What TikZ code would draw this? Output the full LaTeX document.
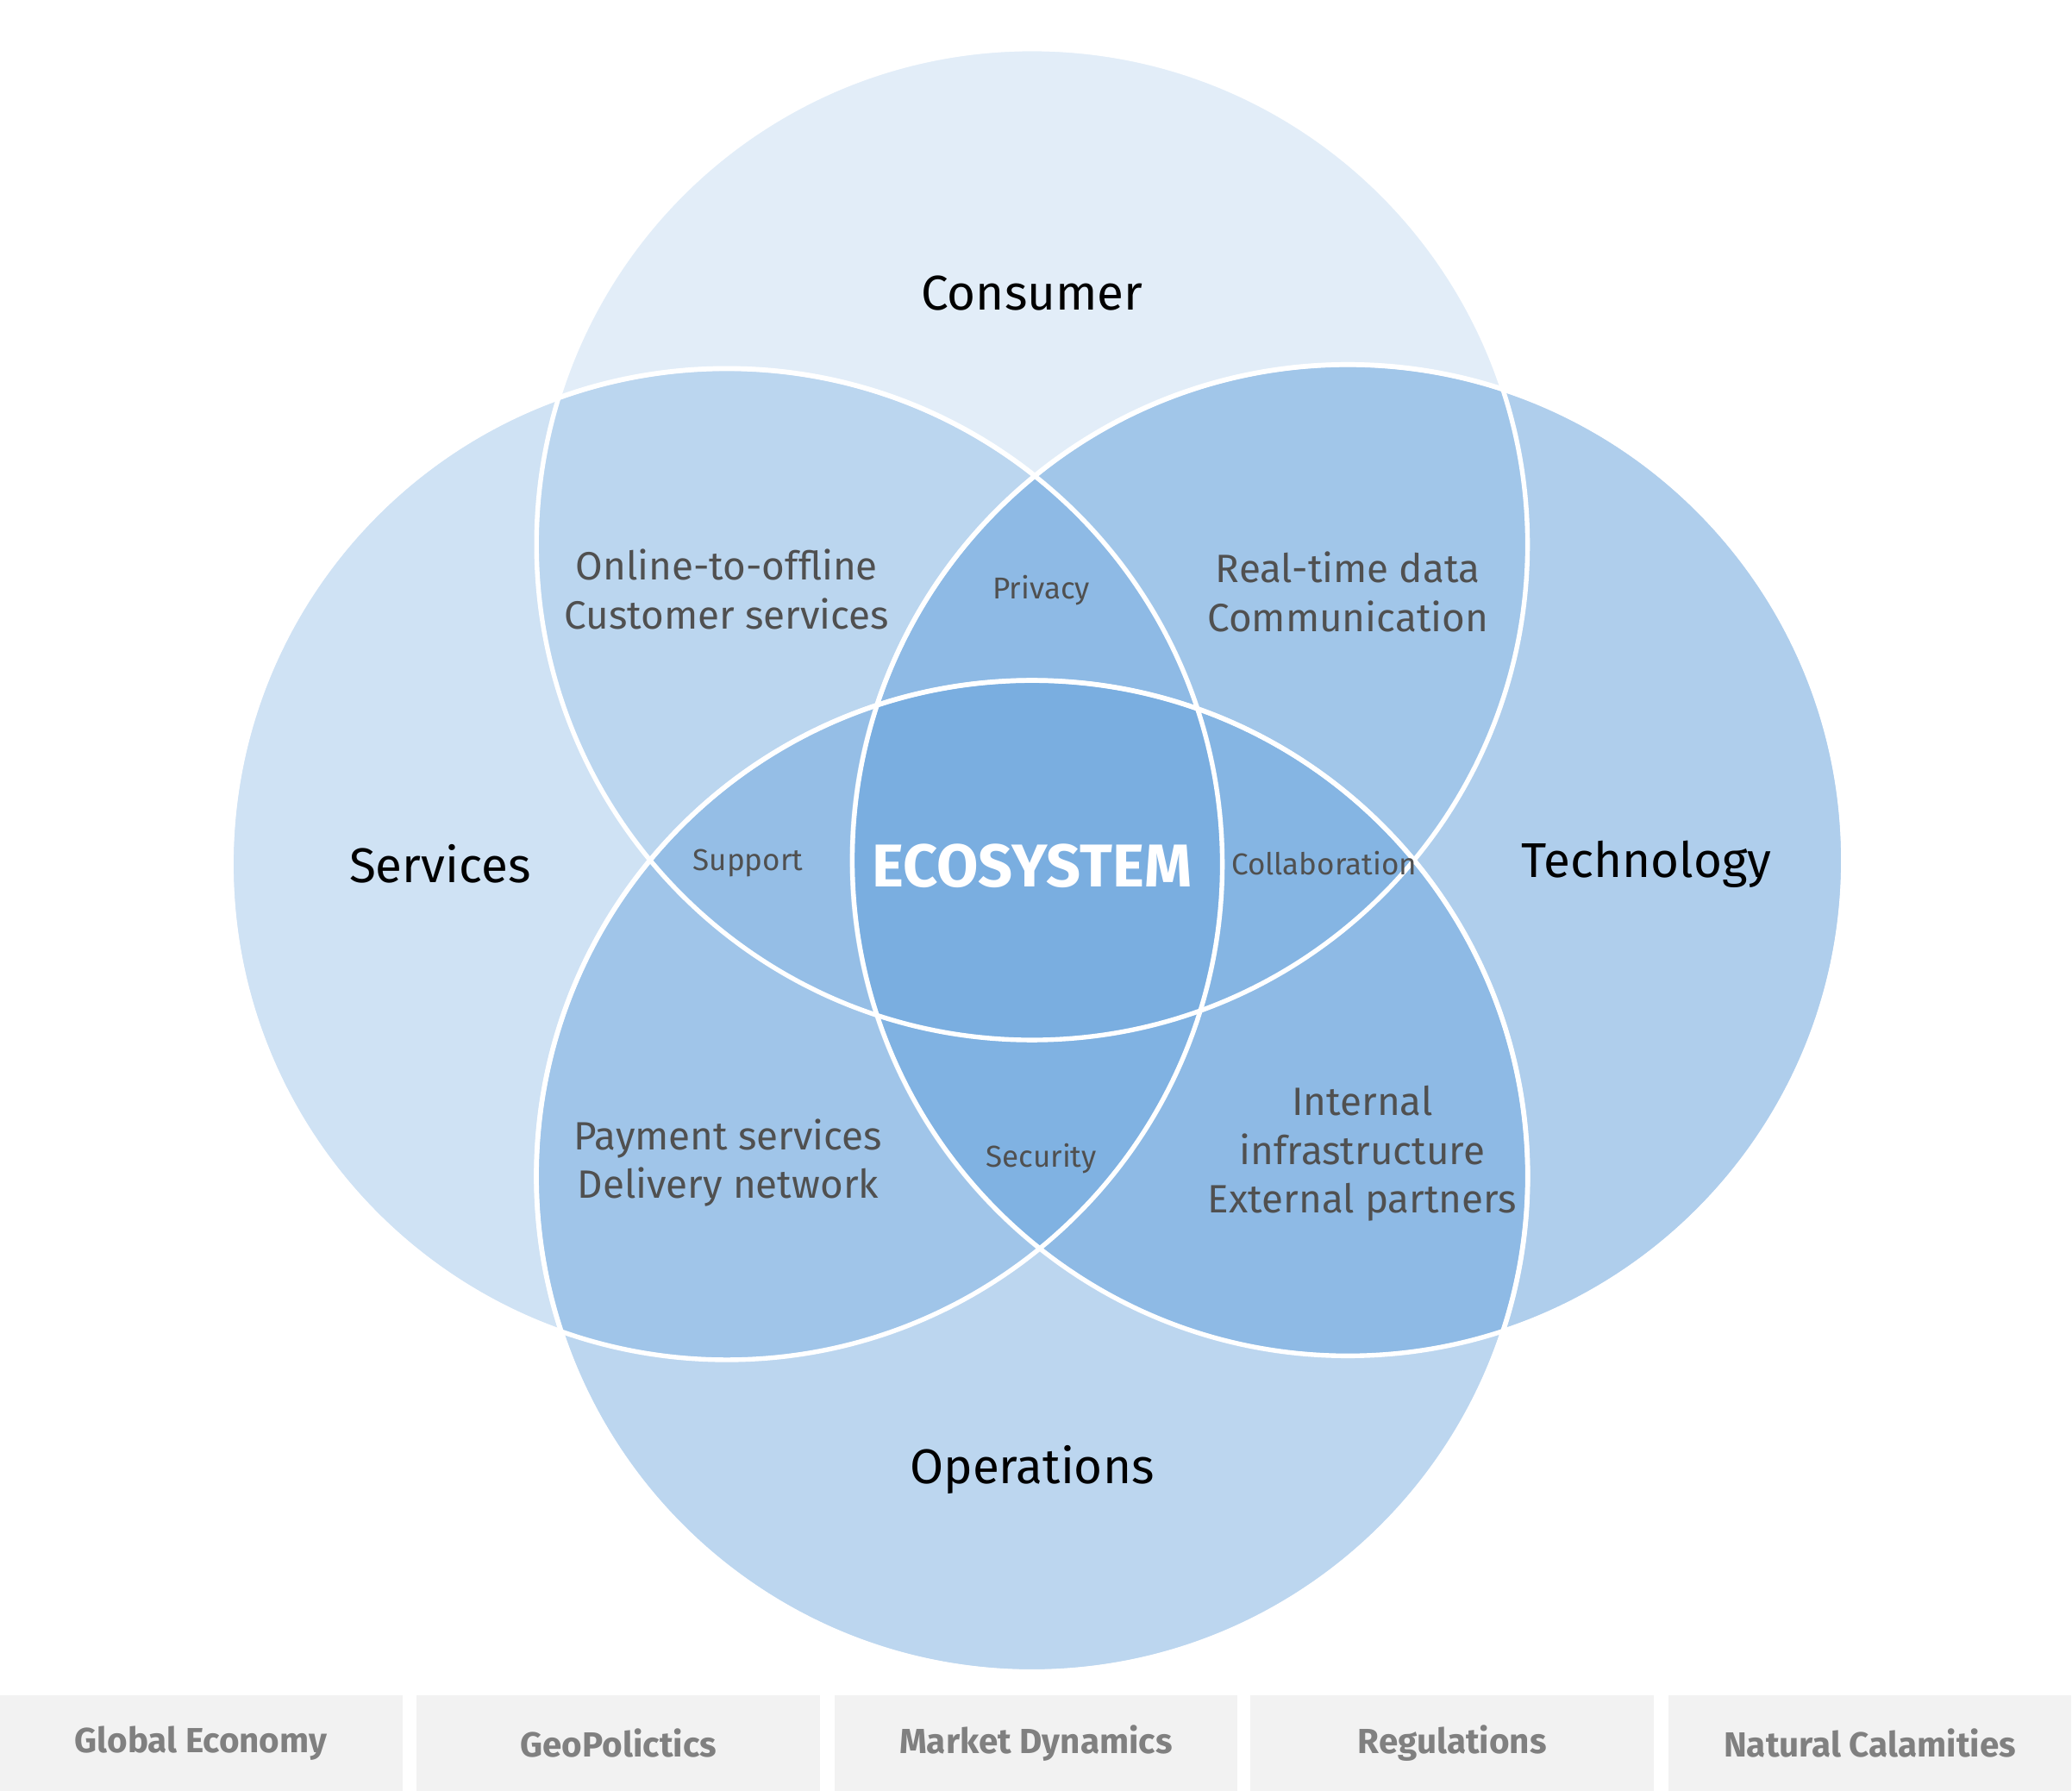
\documentclass[tikz,border=0pt]{standalone}
\usepackage{fontspec}
\setmainfont{Fira Sans}
\definecolor{vennblue}{RGB}{96,158,218}
\definecolor{boxgray}{RGB}{242,242,242}
\definecolor{boxtext}{RGB}{128,128,128}
\definecolor{inntext}{RGB}{80,80,80}
\tikzset{
  vC/.style={circle,minimum size=7.5cm,inner sep=0pt,draw=white,line width=1pt,fill=vennblue},
  mainL/.style={font=\fontsize{10.5}{12}\selectfont,text=black},
  areaL/.style={font=\fontsize{8.5}{10.5}\selectfont,text=inntext,align=center},
  smallL/.style={font=\fontsize{6.5}{8}\selectfont,text=inntext},
  boxS/.style={fill=boxgray,minimum width=3.05cm,minimum height=0.72cm,inner sep=0pt,
    font=\bfseries\fontsize{7.5}{9}\selectfont,text=boxtext}
}
\begin{document}
\begin{tikzpicture}[x=0.01cm,y=-0.01cm]
  \useasboundingbox (0,0) rectangle (1568,1355);
  % circles
  \node[vC,fill opacity=0.18] (cons) at (781,412) {};
  \node[vC,fill opacity=0.30] (serv) at (550,654) {};
  \node[vC,fill opacity=0.50] (tech) at (1020,651) {};
  \node[vC,fill opacity=0.42] (oper) at (781,890) {};
  % outlines again on top
  \foreach \c in {cons,serv,tech,oper}
    \draw[white,line width=1pt] (\c) circle (375);
  % labels
  \node[mainL] (lcons) at (781,222) {Consumer};
  \node[mainL] (lserv) at (333,654) {Services};
  \node[mainL] (ltech) at (1246,654) {Technology};
  \node[mainL] (loper) at (781,1112) {Operations};
  \node[areaL] (acs) at (550,446) {Online-to-offline\\Customer services};
  \node[areaL] (act) at (1020,448) {Real-time data\\Communication};
  \node[areaL] (aso) at (551,880) {Payment services\\Delivery network};
  \node[areaL] (ato) at (1031,873) {Internal\\infrastructure\\External partners};
  \node[smallL] (spriv) at (788,447) {Privacy};
  \node[smallL] (ssupp) at (566,653) {Support};
  \node[smallL] (scoll) at (1002,653) {Collaboration};
  \node[smallL] (ssecu) at (788,877) {Security};
  \node[font=\bfseries\fontsize{13}{15}\selectfont,text=white] (eco) at (781,655) {ECOSYSTEM};
  % bottom boxes
  \foreach \x/\t [count=\i] in {152/Global Economy,468/GeoPolictics,784/Market Dynamics,1099/Regulations,1415/Natural Calamities}
    \node[boxS] (box\i) at (\x,1319) {\t};
\end{tikzpicture}
\end{document}
